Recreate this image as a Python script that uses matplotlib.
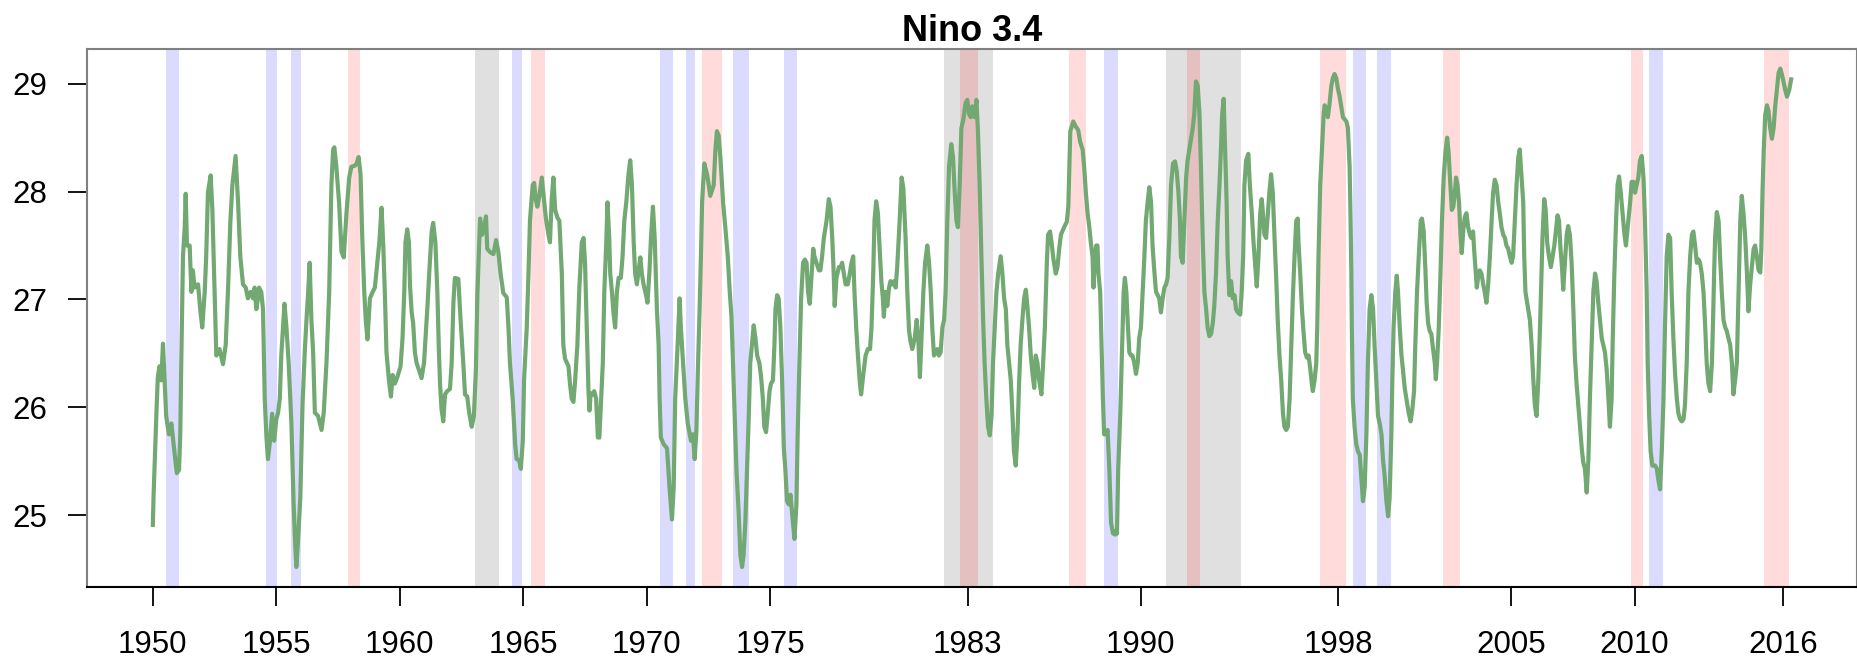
import matplotlib
matplotlib.use("Agg")
import matplotlib.pyplot as plt

plt.rcParams['font.family'] = ['Liberation Sans', 'DejaVu Sans']

# monthly Nino 3.4 SST (deg C), in pieces
years_a = [
    1950.00, 1950.03, 1950.14, 1950.20, 1950.27, 1950.34, 1950.41, 1950.47, 1950.54, 1950.65,
    1950.75, 1950.81, 1950.92, 1950.97, 1951.06, 1951.11, 1951.15, 1951.22, 1951.29, 1951.33,
    1951.38, 1951.49, 1951.56, 1951.62, 1951.69, 1951.83, 1951.93, 1952.00, 1952.10, 1952.16,
    1952.23, 1952.34, 1952.41, 1952.50, 1952.57, 1952.70, 1952.84, 1952.95, 1953.04, 1953.14,
    1953.22, 1953.35, 1953.45, 1953.54, 1953.65, 1953.76, 1953.85, 1953.96, 1954.06, 1954.12,
    1954.19, 1954.26, 1954.30, 1954.39, 1954.46, 1954.53, 1954.60, 1954.66, 1954.73, 1954.83,
    1954.91, 1955.00, 1955.07, 1955.14, 1955.20, 1955.27, 1955.33, 1955.41, 1955.50, 1955.61,
    1955.70, 1955.77, 1955.81, 1955.88, 1955.97, 1956.06, 1956.15, 1956.22, 1956.29, 1956.35,
    1956.42, 1956.49, 1956.56, 1956.69, 1956.83, 1956.92, 1957.03, 1957.14, 1957.23, 1957.30,
    1957.35, 1957.43, 1957.54, 1957.64, 1957.73, 1957.84, 1957.95, 1958.04, 1958.18, 1958.25,
    1958.33, 1958.41, 1958.48, 1958.56, 1958.62, 1958.69, 1958.79, 1958.88, 1958.99,
]
sst_a = [
    24.91, 25.19, 25.92, 26.28, 26.38, 26.25, 26.59, 26.28, 25.92, 25.75,
    25.85, 25.72, 25.49, 25.39, 25.42, 25.75, 26.41, 27.40, 27.67, 27.98,
    27.50, 27.50, 27.07, 27.27, 27.11, 27.14, 26.88, 26.74, 27.07, 27.40,
    27.99, 28.15, 27.83, 27.07, 26.48, 26.54, 26.40, 26.58, 27.07, 27.73,
    28.06, 28.33, 27.90, 27.40, 27.14, 27.11, 27.01, 27.07, 27.01, 27.11,
    26.91, 27.01, 27.11, 27.07, 26.91, 26.08, 25.72, 25.52, 25.66, 25.94,
    25.69, 25.89, 25.95, 26.08, 26.48, 26.74, 26.96, 26.74, 26.41, 25.85,
    25.10, 24.70, 24.52, 24.77, 25.16, 26.02, 26.51, 26.81, 27.07, 27.34,
    26.81, 26.51, 25.95, 25.92, 25.79, 25.95, 26.41, 27.07, 28.06, 28.39,
    28.41, 28.23, 27.90, 27.44, 27.39, 27.80, 28.13, 28.23, 28.24, 28.26,
    28.32, 28.16, 27.57, 27.07, 26.81, 26.63, 27.01, 27.06, 27.11,
]

years_b = [
    1959.06, 1959.17, 1959.26, 1959.33, 1959.40, 1959.46, 1959.56, 1959.64, 1959.71, 1959.80,
    1959.90, 1960.03, 1960.11, 1960.18, 1960.23, 1960.30, 1960.37, 1960.41, 1960.48, 1960.54,
    1960.61, 1960.68, 1960.77, 1960.88, 1960.98, 1961.06, 1961.12, 1961.19, 1961.29, 1961.35,
    1961.44, 1961.52, 1961.58, 1961.63, 1961.69, 1961.76, 1961.83, 1961.92, 1962.03, 1962.10,
    1962.17, 1962.23, 1962.37, 1962.46, 1962.57, 1962.64, 1962.73, 1962.81, 1962.91, 1963.00,
    1963.08, 1963.14, 1963.25, 1963.33, 1963.41, 1963.49, 1963.54, 1963.65, 1963.79, 1963.90,
    1963.99, 1964.08, 1964.19, 1964.33, 1964.40, 1964.46, 1964.57, 1964.67, 1964.73, 1964.83,
    1964.90, 1964.98, 1965.03, 1965.14, 1965.21, 1965.27, 1965.38, 1965.44, 1965.50, 1965.57,
    1965.65, 1965.75, 1965.81, 1965.91, 1966.02, 1966.08, 1966.15, 1966.22, 1966.29, 1966.38,
    1966.46, 1966.56, 1966.62, 1966.69, 1966.83, 1966.89, 1966.96, 1967.03, 1967.10, 1967.19,
    1967.27, 1967.37, 1967.44, 1967.50, 1967.57, 1967.64, 1967.68, 1967.73, 1967.82, 1967.87,
    1967.95, 1968.02, 1968.08,
]
sst_b = [
    27.27, 27.53, 27.85, 27.50, 27.01, 26.51, 26.25, 26.10, 26.30, 26.22,
    26.28, 26.38, 26.64, 27.07, 27.53, 27.65, 27.53, 27.14, 26.88, 26.78,
    26.51, 26.41, 26.35, 26.27, 26.41, 26.71, 26.94, 27.24, 27.63, 27.71,
    27.53, 27.07, 26.54, 26.21, 25.98, 25.87, 26.12, 26.15, 26.17, 26.41,
    26.97, 27.20, 27.19, 26.81, 26.41, 26.12, 26.10, 25.95, 25.82, 25.92,
    26.35, 27.04, 27.75, 27.60, 27.67, 27.77, 27.47, 27.44, 27.42, 27.55,
    27.44, 27.24, 27.06, 27.02, 26.74, 26.41, 26.08, 25.66, 25.52, 25.51,
    25.43, 25.69, 26.25, 26.74, 27.24, 27.73, 28.06, 28.08, 27.93, 27.86,
    27.96, 28.13, 27.99, 27.76, 27.60, 27.53, 27.93, 28.13, 27.83, 27.76,
    27.73, 27.24, 26.58, 26.45, 26.38, 26.22, 26.08, 26.05, 26.25, 26.58,
    27.11, 27.53, 27.57, 27.34, 26.74, 26.15, 25.97, 26.13, 26.12, 26.15,
    26.08, 25.72, 25.72,
]

years_c = [
    1968.22, 1968.28, 1968.36, 1968.41, 1968.48, 1968.52, 1968.59, 1968.65, 1968.72, 1968.79,
    1968.86, 1968.95, 1969.02, 1969.09, 1969.17, 1969.26, 1969.33, 1969.40, 1969.47, 1969.53,
    1969.60, 1969.67, 1969.74, 1969.80, 1969.87, 1969.97, 1970.03, 1970.11, 1970.17, 1970.25,
    1970.32, 1970.41, 1970.48, 1970.52, 1970.57, 1970.68, 1970.82, 1970.92, 1971.02, 1971.09,
    1971.15, 1971.25, 1971.33, 1971.38, 1971.47, 1971.56, 1971.66, 1971.74, 1971.79, 1971.87,
    1971.94, 1972.01, 1972.07, 1972.14, 1972.20, 1972.24, 1972.33, 1972.44, 1972.51, 1972.57,
    1972.71, 1972.78, 1972.84, 1972.91, 1972.98, 1973.09, 1973.18, 1973.28, 1973.36, 1973.43,
    1973.49, 1973.56, 1973.63, 1973.72, 1973.79, 1973.86, 1973.92, 1973.99, 1974.06, 1974.13,
    1974.19, 1974.26, 1974.33, 1974.40, 1974.47, 1974.56, 1974.63, 1974.70, 1974.76, 1974.83,
    1974.90, 1974.97, 1975.03, 1975.11, 1975.17, 1975.21, 1975.28, 1975.34, 1975.41, 1975.48,
    1975.55, 1975.61, 1975.68, 1975.75, 1975.82, 1975.88, 1975.98, 1976.06, 1976.11, 1976.18,
    1976.25, 1976.33, 1976.40, 1976.47, 1976.53, 1976.60, 1976.65, 1976.74, 1976.79, 1976.87,
    1976.97, 1977.03, 1977.10, 1977.17, 1977.28, 1977.37, 1977.44, 1977.51, 1977.57, 1977.61,
    1977.68, 1977.78,
]
sst_c = [
    26.41, 27.07, 27.53, 27.90, 27.57, 27.24, 27.07, 26.88, 26.74, 27.07,
    27.20, 27.20, 27.40, 27.73, 27.90, 28.16, 28.29, 28.06, 27.53, 27.24,
    27.14, 27.27, 27.39, 27.24, 27.14, 27.04, 26.97, 27.27, 27.57, 27.86,
    27.57, 26.91, 26.58, 26.08, 25.72, 25.66, 25.62, 25.26, 24.96, 25.26,
    26.08, 26.58, 27.01, 26.74, 26.41, 26.08, 25.85, 25.75, 25.69, 25.75,
    25.52, 25.79, 26.35, 26.91, 27.47, 27.90, 28.26, 28.16, 28.06, 27.96,
    28.06, 28.39, 28.56, 28.52, 28.32, 27.90, 27.67, 27.40, 27.07, 26.84,
    26.41, 25.92, 25.43, 25.03, 24.63, 24.52, 24.63, 24.93, 25.43, 25.92,
    26.41, 26.58, 26.76, 26.64, 26.48, 26.41, 26.28, 26.08, 25.82, 25.77,
    25.95, 26.15, 26.22, 26.25, 26.58, 26.91, 27.04, 27.01, 26.74, 26.25,
    25.62, 25.43, 25.13, 25.10, 25.19, 25.03, 24.78, 25.10, 25.75, 26.41,
    27.01, 27.34, 27.37, 27.34, 27.07, 26.96, 27.14, 27.47, 27.40, 27.34,
    27.27, 27.27, 27.40, 27.57, 27.73, 27.93, 27.86, 27.57, 27.24, 26.94,
    27.20, 27.30,
]

years_d = [
    1977.85, 1977.91, 1977.98, 1978.05, 1978.14, 1978.22, 1978.29, 1978.36, 1978.41, 1978.48,
    1978.55, 1978.63, 1978.68, 1978.77, 1978.86, 1978.95, 1979.04, 1979.10, 1979.17, 1979.22,
    1979.29, 1979.36, 1979.43, 1979.50, 1979.56, 1979.60, 1979.67, 1979.74, 1979.81, 1979.87,
    1979.94, 1980.01, 1980.08, 1980.14, 1980.24, 1980.32, 1980.39, 1980.48, 1980.55, 1980.62,
    1980.68, 1980.75, 1980.85, 1980.93, 1981.00, 1981.06, 1981.13, 1981.20, 1981.27, 1981.36,
    1981.43, 1981.50, 1981.56, 1981.63, 1981.70, 1981.77, 1981.83, 1981.90, 1981.97, 1982.04,
    1982.10, 1982.17, 1982.24, 1982.33, 1982.40, 1982.47, 1982.54, 1982.60, 1982.67, 1982.74,
    1982.82, 1982.91, 1982.98, 1983.05, 1983.12, 1983.18, 1983.28, 1983.35, 1983.41, 1983.48,
    1983.55, 1983.62, 1983.68, 1983.75, 1983.82, 1983.89, 1983.96, 1984.02, 1984.09, 1984.16,
    1984.23, 1984.33, 1984.40, 1984.47, 1984.54, 1984.60, 1984.67, 1984.74, 1984.81, 1984.87,
    1984.94, 1985.01, 1985.08, 1985.14, 1985.21, 1985.28, 1985.35, 1985.41, 1985.48, 1985.55,
    1985.62, 1985.69, 1985.75, 1985.82, 1985.89, 1985.98, 1986.05, 1986.12, 1986.20, 1986.25,
    1986.33, 1986.39, 1986.47, 1986.56, 1986.63, 1986.70, 1986.77, 1986.90, 1987.01, 1987.07,
    1987.11,
]
sst_d = [
    27.30, 27.34, 27.24, 27.14, 27.14, 27.24, 27.34, 27.40, 27.07, 26.74,
    26.48, 26.22, 26.12, 26.31, 26.48, 26.54, 26.54, 26.74, 27.24, 27.73,
    27.91, 27.80, 27.47, 27.17, 27.01, 26.84, 27.07, 26.94, 27.11, 27.17,
    27.14, 27.17, 27.11, 27.30, 27.73, 28.13, 28.03, 27.57, 27.07, 26.71,
    26.61, 26.54, 26.64, 26.81, 26.61, 26.28, 26.68, 27.07, 27.34, 27.50,
    27.34, 27.07, 26.74, 26.48, 26.51, 26.54, 26.48, 26.51, 26.74, 26.81,
    27.07, 27.73, 28.23, 28.44, 28.32, 27.99, 27.73, 27.67, 28.06, 28.59,
    28.67, 28.82, 28.85, 28.72, 28.69, 28.79, 28.69, 28.85, 28.56, 28.06,
    27.40, 26.81, 26.41, 26.08, 25.82, 25.74, 25.92, 26.41, 26.74, 27.07,
    27.24, 27.40, 27.24, 27.01, 26.91, 26.58, 26.41, 26.25, 25.92, 25.59,
    25.46, 25.75, 26.25, 26.58, 26.81, 27.01, 27.09, 26.94, 26.74, 26.48,
    26.31, 26.18, 26.48, 26.41, 26.25, 26.12, 26.41, 26.74, 27.34, 27.60,
    27.63, 27.53, 27.37, 27.24, 27.30, 27.47, 27.60, 27.67, 27.72, 27.86,
    28.23,
]

years_e = [
    1987.15, 1987.27, 1987.38, 1987.47, 1987.55, 1987.65, 1987.71, 1987.78, 1987.85, 1987.92,
    1987.98, 1988.05, 1988.09, 1988.15, 1988.20, 1988.25, 1988.29, 1988.36, 1988.42, 1988.47,
    1988.52, 1988.59, 1988.66, 1988.73, 1988.80, 1988.88, 1988.93, 1988.97, 1989.04, 1989.09,
    1989.17, 1989.24, 1989.31, 1989.36, 1989.42, 1989.47, 1989.54, 1989.61, 1989.67, 1989.74,
    1989.81, 1989.88, 1989.94, 1990.01, 1990.08, 1990.15, 1990.21, 1990.28, 1990.35, 1990.42,
    1990.48, 1990.55, 1990.62, 1990.69, 1990.75, 1990.82, 1990.89, 1990.96, 1991.03, 1991.09,
    1991.16, 1991.23, 1991.31, 1991.39, 1991.46, 1991.53, 1991.59, 1991.63, 1991.70, 1991.77,
    1991.84, 1991.90, 1991.97, 1992.04, 1992.11, 1992.17, 1992.24, 1992.31, 1992.38, 1992.44,
    1992.51, 1992.58, 1992.65, 1992.71, 1992.78, 1992.85, 1992.92, 1992.98, 1993.05, 1993.12,
    1993.19, 1993.25, 1993.30, 1993.36, 1993.42, 1993.48, 1993.52, 1993.59, 1993.66, 1993.73,
    1993.80, 1993.86, 1993.93, 1994.03, 1994.09, 1994.15, 1994.20, 1994.27, 1994.36, 1994.42,
    1994.50, 1994.57, 1994.65, 1994.70, 1994.77, 1994.84, 1994.90, 1994.94, 1995.01, 1995.08,
    1995.15, 1995.21, 1995.28, 1995.35, 1995.42, 1995.48, 1995.55, 1995.62, 1995.69, 1995.76,
    1995.82, 1995.89, 1995.96, 1996.03, 1996.09, 1996.16, 1996.23, 1996.30, 1996.36,
]
sst_e = [
    28.56, 28.65, 28.60, 28.57, 28.46, 28.39, 28.23, 27.99, 27.80, 27.67,
    27.53, 27.40, 27.11, 27.40, 27.50, 27.50, 27.24, 27.07, 26.51, 26.08,
    25.75, 25.75, 25.79, 25.43, 24.93, 24.83, 24.85, 24.82, 24.83, 25.43,
    25.92, 26.48, 27.07, 27.20, 27.07, 26.81, 26.51, 26.48, 26.48, 26.41,
    26.31, 26.41, 26.64, 26.74, 27.07, 27.40, 27.73, 27.90, 28.04, 27.90,
    27.50, 27.27, 27.07, 27.04, 27.01, 26.88, 27.01, 27.11, 27.14, 27.20,
    27.57, 28.06, 28.26, 28.28, 28.19, 27.99, 27.73, 27.40, 27.34, 27.73,
    28.13, 28.29, 28.39, 28.49, 28.59, 28.72, 29.02, 28.98, 28.72, 28.23,
    27.57, 27.07, 26.91, 26.74, 26.66, 26.68, 26.78, 26.94, 27.24, 27.73,
    28.06, 28.39, 28.72, 28.86, 28.39, 27.90, 27.40, 27.04, 27.17, 27.01,
    27.04, 26.91, 26.88, 26.86, 27.07, 27.40, 28.06, 28.29, 28.35, 28.06,
    27.80, 27.53, 27.27, 27.12, 27.40, 27.80, 27.93, 27.83, 27.60, 27.57,
    27.80, 27.99, 28.16, 27.99, 27.57, 27.24, 26.81, 26.48, 26.25, 25.95,
    25.82, 25.79, 25.82, 26.08, 26.51, 27.01, 27.40, 27.73, 27.75,
]

years_f = [
    1996.39, 1996.46, 1996.53, 1996.60, 1996.66, 1996.73, 1996.80, 1996.87, 1996.93, 1996.97,
    1997.04, 1997.11, 1997.15, 1997.20, 1997.27, 1997.34, 1997.41, 1997.45, 1997.51, 1997.58,
    1997.65, 1997.72, 1997.78, 1997.85, 1997.92, 1997.99, 1998.05, 1998.12, 1998.19, 1998.26,
    1998.33, 1998.39, 1998.46, 1998.50, 1998.53, 1998.55, 1998.59, 1998.66, 1998.73, 1998.80,
    1998.87, 1998.93, 1999.00, 1999.07, 1999.14, 1999.20, 1999.27, 1999.34, 1999.41, 1999.47,
    1999.54, 1999.61, 1999.68, 1999.75, 1999.81, 1999.88, 1999.95, 2000.02, 2000.08, 2000.15,
    2000.19, 2000.24, 2000.31, 2000.37, 2000.42, 2000.49, 2000.56, 2000.62, 2000.69, 2000.76,
    2000.85, 2000.93, 2001.00, 2001.07, 2001.12, 2001.19, 2001.26, 2001.34, 2001.39, 2001.46,
    2001.53, 2001.58, 2001.64, 2001.70, 2001.77, 2001.84, 2001.91, 2001.95, 2002.00, 2002.07,
    2002.14, 2002.20, 2002.27, 2002.34, 2002.41, 2002.47, 2002.54, 2002.60, 2002.66, 2002.72,
    2002.77, 2002.83, 2002.89, 2002.95, 2003.00, 2003.06, 2003.12, 2003.19, 2003.26, 2003.33,
    2003.39, 2003.46, 2003.50, 2003.56, 2003.61, 2003.66, 2003.73, 2003.80, 2003.87, 2003.93,
    2004.00, 2004.07, 2004.14, 2004.21, 2004.27, 2004.34, 2004.41, 2004.48, 2004.54, 2004.61,
    2004.68, 2004.75, 2004.81, 2004.88, 2004.95, 2005.02, 2005.08, 2005.15, 2005.22, 2005.29,
    2005.35,
]
sst_f = [
    27.53, 27.24, 26.91, 26.68, 26.51, 26.46, 26.48, 26.35, 26.22, 26.15,
    26.25, 26.41, 26.74, 27.40, 28.06, 28.39, 28.72, 28.80, 28.75, 28.69,
    28.82, 28.98, 29.05, 29.09, 29.05, 28.95, 28.89, 28.79, 28.69, 28.67,
    28.65, 28.59, 28.23, 27.73, 27.24, 26.74, 26.08, 25.82, 25.66, 25.59,
    25.56, 25.36, 25.13, 25.26, 25.75, 26.41, 26.91, 27.04, 26.91, 26.58,
    26.25, 25.92, 25.85, 25.75, 25.52, 25.36, 25.13, 24.99, 25.16, 25.75,
    26.25, 26.74, 27.07, 27.22, 27.07, 26.74, 26.48, 26.35, 26.18, 26.08,
    25.95, 25.87, 25.98, 26.15, 26.58, 27.07, 27.40, 27.73, 27.75, 27.63,
    27.27, 26.97, 26.78, 26.71, 26.68, 26.54, 26.41, 26.26, 26.41, 26.74,
    27.24, 27.73, 28.13, 28.36, 28.50, 28.36, 28.06, 27.83, 27.86, 27.99,
    28.13, 28.06, 27.90, 27.60, 27.43, 27.63, 27.76, 27.80, 27.67, 27.60,
    27.57, 27.63, 27.47, 27.27, 27.11, 27.20, 27.27, 27.24, 27.14, 27.07,
    26.97, 27.14, 27.40, 27.73, 27.99, 28.11, 28.06, 27.90, 27.80, 27.67,
    27.60, 27.57, 27.50, 27.47, 27.40, 27.34, 27.40, 27.73, 28.06, 28.32,
    28.39,
]

years_g = [
    2005.49, 2005.53, 2005.58, 2005.67, 2005.76, 2005.83, 2005.90, 2005.96, 2006.03, 2006.10,
    2006.17, 2006.23, 2006.27, 2006.34, 2006.40, 2006.46, 2006.53, 2006.61, 2006.68, 2006.75,
    2006.83, 2006.88, 2006.94, 2007.00, 2007.06, 2007.11, 2007.18, 2007.25, 2007.31, 2007.38,
    2007.45, 2007.52, 2007.58, 2007.65, 2007.72, 2007.79, 2007.86, 2007.92, 2007.99, 2008.06,
    2008.13, 2008.19, 2008.26, 2008.33, 2008.40, 2008.46, 2008.53, 2008.60, 2008.67, 2008.73,
    2008.80, 2008.87, 2008.94, 2009.00, 2009.07, 2009.11, 2009.18, 2009.25, 2009.31, 2009.37,
    2009.44, 2009.50, 2009.59, 2009.65, 2009.72, 2009.82, 2009.88, 2009.95, 2010.02, 2010.08,
    2010.15, 2010.22, 2010.29, 2010.36, 2010.42, 2010.49, 2010.53, 2010.59, 2010.65, 2010.72,
    2010.83, 2010.90, 2010.96, 2011.03, 2011.10, 2011.17, 2011.23, 2011.30, 2011.37, 2011.44,
    2011.50, 2011.57, 2011.64, 2011.71, 2011.77, 2011.84, 2011.91, 2011.98, 2012.04, 2012.11,
    2012.18, 2012.25, 2012.32, 2012.38, 2012.45, 2012.52, 2012.59, 2012.65, 2012.72, 2012.79,
    2012.86, 2012.92, 2012.99, 2013.06, 2013.13, 2013.17, 2013.22, 2013.26, 2013.33, 2013.40,
    2013.46, 2013.53, 2013.60, 2013.67, 2013.73, 2013.80, 2013.87, 2013.94, 2014.00, 2014.07,
    2014.14, 2014.21, 2014.28, 2014.34, 2014.41, 2014.48, 2014.55, 2014.61, 2014.68, 2014.75,
    2014.82, 2014.88, 2014.95, 2015.02, 2015.09, 2015.13, 2015.18, 2015.23, 2015.29, 2015.36,
    2015.42, 2015.49, 2015.56, 2015.63, 2015.69, 2015.76, 2015.83, 2015.90, 2015.97, 2016.03,
    2016.10, 2016.17, 2016.26, 2016.34,
]
sst_g = [
    27.90, 27.40, 27.07, 26.94, 26.81, 26.58, 26.25, 26.02, 25.92, 26.25,
    26.74, 27.24, 27.57, 27.93, 27.83, 27.53, 27.40, 27.30, 27.40, 27.50,
    27.67, 27.78, 27.73, 27.47, 27.30, 27.09, 27.34, 27.60, 27.68, 27.60,
    27.34, 26.91, 26.48, 26.22, 26.02, 25.82, 25.62, 25.49, 25.43, 25.21,
    25.52, 26.08, 26.58, 27.07, 27.24, 27.17, 26.97, 26.81, 26.64, 26.58,
    26.51, 26.35, 26.08, 25.82, 26.08, 26.58, 27.24, 27.73, 28.06, 28.14,
    27.99, 27.83, 27.60, 27.50, 27.67, 27.90, 28.09, 28.09, 27.99, 28.06,
    28.13, 28.29, 28.33, 28.13, 27.73, 27.07, 26.41, 25.92, 25.59, 25.46,
    25.46, 25.43, 25.33, 25.24, 25.59, 26.08, 26.74, 27.40, 27.60, 27.57,
    27.07, 26.64, 26.31, 26.08, 25.95, 25.89, 25.87, 25.89, 26.02, 26.41,
    27.07, 27.40, 27.60, 27.63, 27.50, 27.34, 27.37, 27.34, 27.24, 27.07,
    26.74, 26.41, 26.22, 26.15, 26.41, 26.74, 27.24, 27.57, 27.81, 27.73,
    27.40, 27.07, 26.81, 26.74, 26.71, 26.64, 26.58, 26.41, 26.12, 26.25,
    26.41, 27.07, 27.73, 27.96, 27.80, 27.57, 27.24, 26.89, 27.14, 27.30,
    27.47, 27.50, 27.40, 27.27, 27.25, 27.45, 28.00, 28.39, 28.71, 28.80,
    28.75, 28.59, 28.49, 28.59, 28.78, 28.94, 29.10, 29.14, 29.08, 29.02,
    28.94, 28.88, 28.94, 29.04,
]

# shaded periods (start, end) in decimal years
la_nina = [(1950.54, 1951.05), (1954.60, 1955.04), (1955.61, 1955.98), (1964.56, 1964.96),
           (1970.55, 1971.06), (1971.57, 1971.97), (1973.48, 1974.14), (1975.55, 1976.09),
           (1988.52, 1989.09), (1998.58, 1999.12), (1999.58, 2000.12), (2010.58, 2011.13)]
el_nino = [(1957.91, 1958.38), (1965.33, 1965.88), (1972.22, 1973.06), (1982.68, 1983.40),
           (1987.10, 1987.78), (1991.88, 1992.42), (1997.27, 1998.33), (2002.26, 2002.94),
           (2009.85, 2010.34), (2015.26, 2016.26)]
volcanic = [(1963.05, 1964.00), (1982.04, 1984.04), (1991.03, 1994.07)]

x_ticks = [1950, 1955, 1960, 1965, 1970, 1975, 1983, 1990, 1998, 2005, 2010, 2016]
y_ticks = [25, 26, 27, 28, 29]

years = years_a + years_b + years_c + years_d + years_e + years_f + years_g
sst = sst_a + sst_b + sst_c + sst_d + sst_e + sst_f + sst_g

fig = plt.figure(figsize=(18.58, 6.64), dpi=100)
ax = fig.add_axes([0.047, 0.1161, 0.9523, 0.8106])

for start, end in volcanic:
    ax.axvspan(start, end, color='black', alpha=0.12, lw=0, zorder=1)
for start, end in el_nino:
    ax.axvspan(start, end, color='red', alpha=0.14, lw=0, zorder=2)
for start, end in la_nina:
    ax.axvspan(start, end, color='blue', alpha=0.14, lw=0, zorder=2)

ax.plot(years, sst, color='#72a872', lw=3.0, zorder=3)

# R style 4% padding around the data range
xspan = max(years) - min(years)
yspan = max(sst) - min(sst)
ax.set_xlim(min(years) - 0.04 * xspan, max(years) + 0.04 * xspan)
ax.set_ylim(min(sst) - 0.04 * yspan, max(sst) + 0.04 * yspan)

ax.set_xticks(x_ticks)
ax.set_xticklabels([str(t) for t in x_ticks])
ax.set_yticks(y_ticks)
ax.tick_params(axis='both', length=14, width=1.3, color='black', labelsize=22.5)
ax.tick_params(axis='x', pad=17)
ax.tick_params(axis='y', pad=14.5)

for side in ['left', 'top', 'right']:
    ax.spines[side].set_color('#808080')
    ax.spines[side].set_linewidth(1.5)
ax.spines['bottom'].set_color('black')
ax.spines['bottom'].set_linewidth(1.5)

ax.set_title('Nino 3.4', fontsize=26, fontweight='bold', pad=5.8)

fig.savefig('out.png', dpi=100)
plt.close(fig)
